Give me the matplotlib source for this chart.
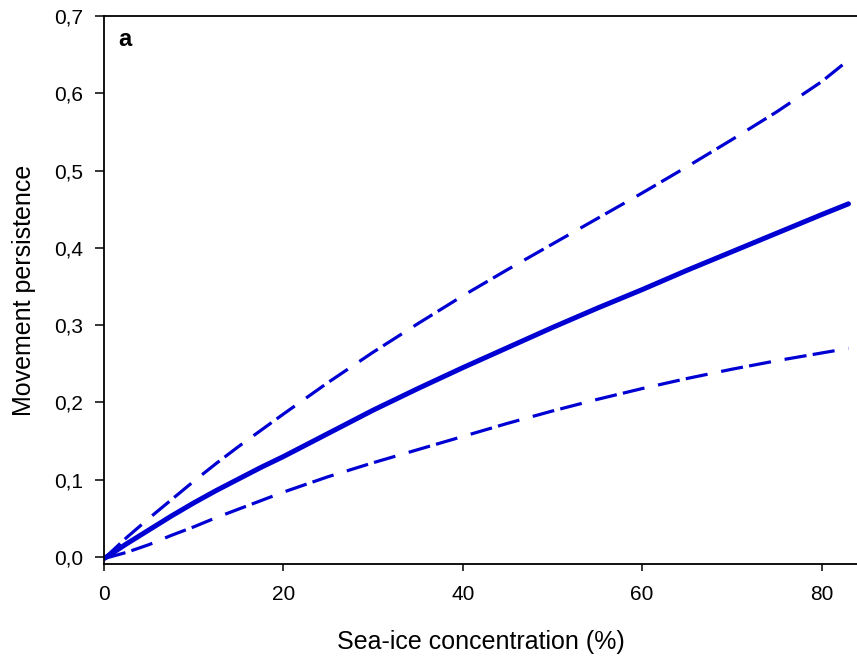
import numpy as np
import matplotlib
matplotlib.use("Agg")
import matplotlib.pyplot as plt
from matplotlib.ticker import FuncFormatter

# values
ice = [0, 2.5, 5, 7.5, 10, 12.5, 15, 17.5, 20, 25, 30, 35, 40, 45, 50, 55, 60, 65, 70, 75, 80, 83]
persist_mean = [-0.002, 0.017, 0.035, 0.053, 0.070, 0.086, 0.101, 0.116, 0.130, 0.160, 0.190,
                0.218, 0.245, 0.271, 0.297, 0.322, 0.346, 0.371, 0.395, 0.419, 0.443, 0.457]
persist_upper = [-0.002, 0.025, 0.050, 0.074, 0.098, 0.121, 0.143, 0.164, 0.185, 0.226, 0.265,
                 0.302, 0.338, 0.372, 0.405, 0.438, 0.471, 0.505, 0.540, 0.576, 0.615, 0.643]
persist_lower = [-0.002, 0.006, 0.016, 0.028, 0.039, 0.051, 0.062, 0.073, 0.084, 0.104, 0.122,
                 0.139, 0.156, 0.173, 0.189, 0.204, 0.218, 0.231, 0.243, 0.254, 0.264, 0.270]

xticks = [0, 20, 40, 60, 80]
yticks = [0.0, 0.1, 0.2, 0.3, 0.4, 0.5, 0.6, 0.7]

plt.rcParams['font.family'] = ['Liberation Sans', 'DejaVu Sans']
plt.rcParams['lines.scale_dashes'] = False

blue = "#0000d2"

fig = plt.figure(figsize=(8.57, 6.59), dpi=100)
ax = fig.add_axes([104/857, 95/659, 753/857, 548/659])

ax.plot(ice, persist_mean, color=blue, lw=3.6, solid_capstyle="round")
ax.plot(ice, persist_upper, color=blue, lw=2.3, linestyle=(0, (16, 4.5, 16, 10)))
ax.plot(ice, persist_lower, color=blue, lw=2.3, linestyle=(0, (16, 4.5, 16, 10)))

ax.set_xlim(0, 83.95)
ax.set_ylim(-0.009, 0.7)
ax.set_xticks(xticks)
ax.set_yticks(yticks)
ax.yaxis.set_major_formatter(FuncFormatter(lambda v, p: ("%.1f" % v).replace(".", ",")))

ax.spines['right'].set_visible(False)
for s in ['left', 'bottom', 'top']:
    ax.spines[s].set_linewidth(1.3)

ax.tick_params(axis='y', direction='out', length=6.3, width=1.1, pad=8.5, labelsize=15)
ax.tick_params(axis='x', direction='out', length=5, width=1.1, pad=10, labelsize=15)

ax.set_xlabel("Sea-ice concentration (%)", fontsize=18)
ax.set_ylabel("Movement persistence", fontsize=18)
ax.xaxis.set_label_coords(0.5, -0.142)
ax.yaxis.set_label_coords(-0.106, 0.5)
ax.xaxis.label.set_va("center")
ax.yaxis.label.set_va("center")

ax.text(0.028, 0.958, "a", transform=ax.transAxes, fontsize=17, fontweight="bold",
        ha="center", va="center")

plt.savefig("out.png", dpi=100)
